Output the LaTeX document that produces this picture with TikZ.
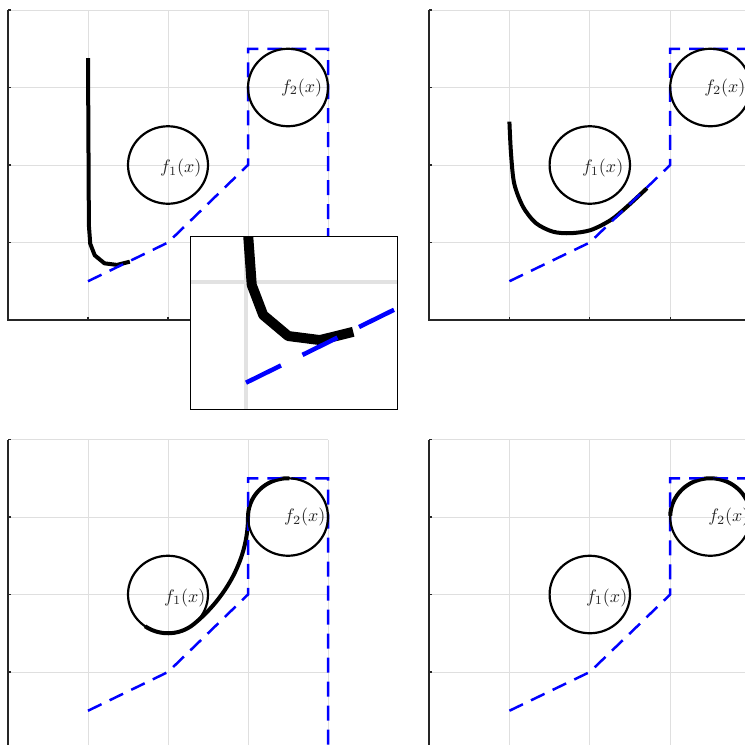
\documentclass[tikz,border=0pt]{standalone}
\definecolor{gridc}{RGB}{223,223,223}
\definecolor{gridi}{RGB}{226,226,226}
\definecolor{axc}{RGB}{38,38,38}
\tikzset{
  gridl/.style={draw=gridc, line width=1pt},
  axl/.style={draw=axc, line width=1.4pt},
  tickl/.style={draw=axc, line width=1.2pt},
  bound/.style={draw=blue, line width=2.5pt, dash pattern=on 15pt off 9pt},
  ring/.style={draw=black, line width=2.2pt},
  traj/.style={draw=black, line width=4pt, line join=round},
  lbl/.style={inner sep=0pt, scale=1.8, text=black!85}
}
\newcommand\panelgrid{%
  \foreach \t in {1,2,3,4} {\draw[gridl] (\t,0) -- (\t,4); \draw[gridl] (0,\t) -- (4,\t);}
  \draw[axl] (0,4) -- (0,0) -- (4,0);
  \foreach \t in {0,...,4} {\draw[tickl] (\t,0) -- ++(0,3pt); \draw[tickl] (0,\t) -- ++(3pt,0);}
}
% #1 prefix, #2 x of f1 label, #3 x of f2 label
\newcommand\panelobjs[3]{%
  \draw[bound] (1,0.5) -- (2,1) -- (3,2) -- (3,3.5) -- (4,3.5) -- (4,0);
  \draw[ring] (2,2) circle[x radius=0.5, y radius=0.5];
  \draw[ring] (3.5,3) circle[x radius=0.5, y radius=0.5];
  \node[lbl] (#1fa) at (#2,1.96) {$f_1(x)$};
  \node[lbl] (#1fb) at (#3,3.0) {$f_2(x)$};
}
\begin{document}
\begin{tikzpicture}
\useasboundingbox (0,0) rectangle (745pt,-745pt);
\clip (0,0) rectangle (745pt,-745pt);

% top left
\begin{scope}[shift={(8pt,-320pt)}, x=80pt, y=77.5pt]
  \panelgrid
  \draw[traj] (1.0,3.38) -- (1.011,1.223) -- (1.028,0.984) -- (1.084,0.835) -- (1.206,0.731) -- (1.361,0.711) -- (1.523,0.752);
  \panelobjs{tl}{2.16}{3.67}
\end{scope}

% top right
\begin{scope}[shift={(429pt,-320pt)}, x=80.4pt, y=77.5pt]
  \panelgrid
  \draw[traj] plot[smooth] coordinates {(1.0,2.56) (1.02,2.15) (1.06,1.76) (1.17,1.46) (1.33,1.25) (1.54,1.14) (1.76,1.12) (2.01,1.16) (2.26,1.29) (2.46,1.46) (2.71,1.70)};
  \panelobjs{tr}{2.16}{3.68}
\end{scope}

% bottom left
\begin{scope}[shift={(8pt,-749.5pt)}, x=80pt, y=77.5pt]
  \panelgrid
  \draw[traj] plot[domain=235:310, samples=20] ({2+0.5*cos(\x)},{2+0.5*sin(\x)})
     .. controls (2.666,1.906) and (3,2.4) .. (3,3)
     -- plot[domain=180:88, samples=24] ({3.5+0.5*cos(\x)},{3+0.5*sin(\x)});
  \panelobjs{bl}{2.21}{3.71}
\end{scope}

% bottom right
\begin{scope}[shift={(429pt,-749.5pt)}, x=80.4pt, y=77.5pt]
  \panelgrid
  \draw[traj] plot[domain=178:0, samples=40] ({3.5+0.5*cos(\x)},{3+0.5*sin(\x)});
  \panelobjs{br}{2.21}{3.73}
\end{scope}

% inset
\fill[white] (190.7pt,-236pt) rectangle (397.3pt,-409pt);
\begin{scope}
  \clip (190.7pt,-236pt) rectangle (397.3pt,-409pt);
  \begin{scope}[shift={(41pt,-483.7pt)}, x=205pt, y=202pt]
    \draw[draw=gridi, line width=4pt] (1,0) -- (1,2);
    \draw[draw=gridi, line width=4pt] (0,1) -- (2,1);
    \draw[draw=black, line width=10pt, line join=round] (1.0,3.38) -- (1.011,1.223) -- (1.028,0.984) -- (1.084,0.835) -- (1.206,0.731) -- (1.361,0.711) -- (1.523,0.752);
    \draw[draw=blue, line width=4.5pt, dash pattern=on 39pt off 24pt] (1,0.5) -- (2,1);
  \end{scope}
\end{scope}
\draw[black, line width=1pt] (190.7pt,-236pt) rectangle (397.3pt,-409pt);
\end{tikzpicture}
\end{document}
